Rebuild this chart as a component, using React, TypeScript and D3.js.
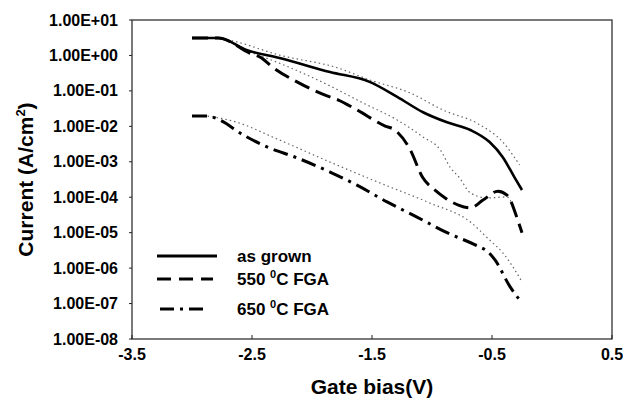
import { useEffect, useRef } from 'react';
import * as d3 from 'd3';

const WIDTH = 623;
const HEIGHT = 400;
const PLOT = { left: 132, right: 612, top: 20, bottom: 339 };
const FONT = '"Liberation Sans", Arial, sans-serif';

const X_TICKS = [-3.5, -2.5, -1.5, -0.5, 0.5];
const X_TICK_LABELS = ['-3.5', '-2.5', '-1.5', '-0.5', '0.5'];
const Y_TICKS = [1e1, 1e0, 1e-1, 1e-2, 1e-3, 1e-4, 1e-5, 1e-6, 1e-7, 1e-8];
const Y_TICK_LABELS = ['1.00E+01', '1.00E+00', '1.00E-01', '1.00E-02', '1.00E-03', '1.00E-04', '1.00E-05', '1.00E-06', '1.00E-07', '1.00E-08'];

// as grown
const grownX = [-3.0, -2.78, -2.54, -2.27, -1.85, -1.52, -1.29, -1.075, -0.875, -0.68, -0.52, -0.41, -0.31, -0.25];
const grownY = [3.1, 3.1, 1.4, 0.85, 0.34, 0.18, 0.068, 0.025, 0.013, 0.0079, 0.0036, 0.00135, 0.00035, 0.00016];

// 550 C FGA
const fga550X = [-3.0, -2.78, -2.52, -2.42, -2.33, -2.125, -1.875, -1.78, -1.625, -1.39, -1.31, -1.18, -1.08, -0.975, -0.89, -0.78, -0.68, -0.575, -0.45, -0.375, -0.28, -0.25];
const fga550Y = [3.1, 3.1, 1.17, 0.85, 0.47, 0.18, 0.072, 0.055, 0.029, 0.0102, 0.0079, 0.00214, 0.00037, 0.000158, 0.0000955, 0.00006, 0.00005, 0.000083, 0.000148, 0.000115, 0.00002, 0.00001];

// 650 C FGA
const fga650X = [-3.0, -2.87, -2.77, -2.575, -2.375, -2.125, -1.85, -1.625, -1.37, -1.125, -0.87, -0.64, -0.53, -0.475, -0.35, -0.27];
const fga650Y = [0.0195, 0.0195, 0.0151, 0.00575, 0.00263, 0.00129, 0.000513, 0.000219, 0.0000724, 0.0000275, 0.0000098, 0.0000045, 0.0000028, 0.0000017, 0.0000003, 0.000000126];

// thin dotted companion curves
const dotGrownX = [-2.78, -2.66, -2.27, -1.79, -1.52, -1.18, -0.91, -0.6, -0.41, -0.27];
const dotGrownY = [3.1, 2.57, 1.02, 0.45, 0.204, 0.087, 0.029, 0.011, 0.0036, 0.00081];

const dot550X = [-2.52, -2.18, -1.85, -1.575, -1.29, -1.075, -0.93, -0.85, -0.77, -0.68, -0.54, -0.375, -0.32];
const dot550Y = [1.26, 0.45, 0.138, 0.0457, 0.0151, 0.005, 0.00214, 0.00071, 0.00035, 0.000132, 0.0000955, 0.000102, 0.00005];

const dot650X = [-2.87, -2.66, -2.27, -1.85, -1.43, -1.02, -0.68, -0.52, -0.41, -0.325, -0.25];
const dot650Y = [0.0195, 0.0141, 0.0041, 0.00098, 0.00025, 0.000069, 0.00002, 0.0000062, 0.0000027, 0.00000107, 0.00000041];

const SERIES = [
  { xs: dotGrownX, ys: dotGrownY, dash: '1.5,3', width: 1.2, color: '#666' },
  { xs: dot550X, ys: dot550Y, dash: '1.5,3', width: 1.2, color: '#666' },
  { xs: dot650X, ys: dot650Y, dash: '1.5,3', width: 1.2, color: '#666' },
  { xs: grownX, ys: grownY, dash: null, width: 2.6, color: '#000' },
  { xs: fga550X, ys: fga550Y, dash: '16,7', width: 3, color: '#000' },
  { xs: fga650X, ys: fga650Y, dash: '15,6,3,6', width: 3, color: '#000' },
];

const LEGEND = [
  { label: 'as grown', sup: null, rest: '', dash: null, y: 256, x1: 157, x2: 217 },
  { label: '550 ', sup: '0', rest: 'C FGA', dash: '14,8', y: 279, x1: 157, x2: 213 },
  { label: '650 ', sup: '0', rest: 'C FGA', dash: '14,6,3,6', y: 309, x1: 160, x2: 204 },
];

export default function App() {
  const svgRef = useRef<SVGSVGElement | null>(null);

  useEffect(() => {
    const svg = d3.select(svgRef.current);
    svg.selectAll('*').remove();

    const x = d3.scaleLinear().domain([-3.5, 0.5]).range([PLOT.left, PLOT.right]);
    const y = d3.scaleLog().domain([1e-8, 1e1]).range([PLOT.bottom, PLOT.top]);

    // frame
    svg.append('rect')
      .attr('x', PLOT.left).attr('y', PLOT.top)
      .attr('width', PLOT.right - PLOT.left).attr('height', PLOT.bottom - PLOT.top)
      .attr('fill', 'none').attr('stroke', '#222').attr('stroke-width', 1.2);

    // y ticks (outside) + labels
    Y_TICKS.forEach((t, i) => {
      svg.append('line')
        .attr('x1', PLOT.left - 3).attr('x2', PLOT.left)
        .attr('y1', y(t)).attr('y2', y(t))
        .attr('stroke', '#222').attr('stroke-width', 1);
      svg.append('text')
        .attr('x', 118).attr('y', y(t) + 5.5)
        .attr('text-anchor', 'end')
        .style('font-family', FONT).style('font-weight', 'bold').style('font-size', '16px')
        .text(Y_TICK_LABELS[i]);
    });

    // x ticks (inside) + labels
    X_TICKS.forEach((t, i) => {
      svg.append('line')
        .attr('x1', x(t)).attr('x2', x(t))
        .attr('y1', PLOT.bottom - 4).attr('y2', PLOT.bottom)
        .attr('stroke', '#222').attr('stroke-width', 1);
      svg.append('text')
        .attr('x', x(t)).attr('y', 360)
        .attr('text-anchor', 'middle')
        .style('font-family', FONT).style('font-weight', 'bold').style('font-size', '16px')
        .text(X_TICK_LABELS[i]);
    });

    // curves
    SERIES.forEach((s) => {
      const pts = s.xs.map((v, i) => [v, s.ys[i]] as [number, number]);
      const line = d3.line<[number, number]>()
        .x((d) => x(d[0]))
        .y((d) => y(d[1]))
        .curve(d3.curveMonotoneX);
      const p = svg.append('path')
        .attr('d', line(pts))
        .attr('fill', 'none')
        .attr('stroke', s.color)
        .attr('stroke-width', s.width)
        .attr('stroke-linejoin', 'round');
      if (s.dash) p.attr('stroke-dasharray', s.dash);
    });

    // legend
    LEGEND.forEach((l) => {
      const ln = svg.append('line')
        .attr('x1', l.x1).attr('x2', l.x2)
        .attr('y1', l.y).attr('y2', l.y)
        .attr('stroke', '#000').attr('stroke-width', 3);
      if (l.dash) ln.attr('stroke-dasharray', l.dash);
      const txt = svg.append('text')
        .attr('x', 237).attr('y', l.y + 6)
        .style('font-family', FONT).style('font-weight', 'bold').style('font-size', '17px');
      txt.append('tspan').text(l.label);
      if (l.sup) {
        txt.append('tspan').attr('dy', -7).style('font-size', '11px').text(l.sup);
        txt.append('tspan').attr('dy', 7).text(l.rest);
      }
    });

    // axis titles
    svg.append('text')
      .attr('x', (PLOT.left + PLOT.right) / 2).attr('y', 394)
      .attr('text-anchor', 'middle')
      .style('font-family', FONT).style('font-weight', 'bold').style('font-size', '21px')
      .text('Gate bias(V)');

    const yt = svg.append('text')
      .attr('transform', `translate(33,${(PLOT.top + PLOT.bottom) / 2}) rotate(-90)`)
      .attr('text-anchor', 'middle')
      .style('font-family', FONT).style('font-weight', 'bold').style('font-size', '21px');
    yt.append('tspan').text('Current (A/cm');
    yt.append('tspan').attr('dy', -8).style('font-size', '13px').text('2');
    yt.append('tspan').attr('dy', 8).text(')');
  }, []);

  return (
    <svg
      ref={svgRef}
      width={WIDTH}
      height={HEIGHT}
      style={{ position: 'absolute', left: 0, top: 0, background: '#fff', display: 'block' }}
    />
  );
}
